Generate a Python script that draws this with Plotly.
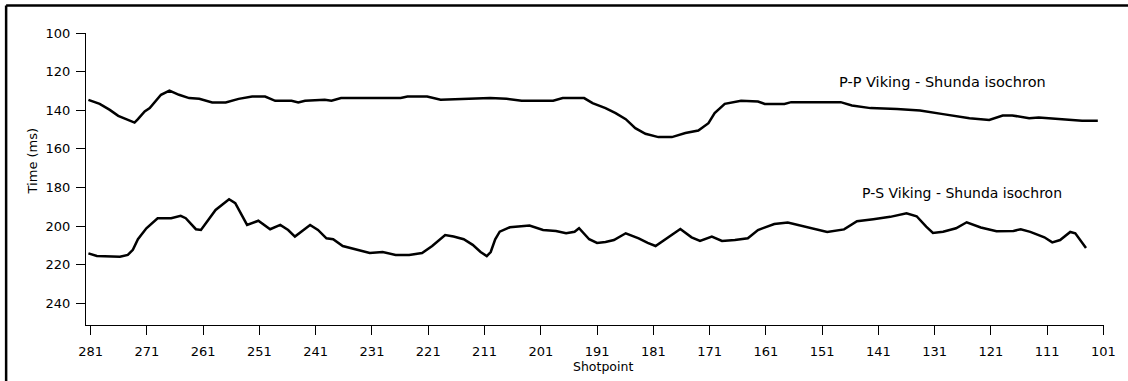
import plotly.graph_objects as go

# ---------------- data ----------------
pp_shotpoint = [281.4, 279.4, 277.6, 276.1, 274.7, 273.2, 272.6, 271.4, 270.5, 268.5,
                267.0, 265.3, 263.5, 261.7, 259.4, 257.0, 254.7, 252.3, 250.0, 248.2,
                245.3, 244.1, 242.9, 239.4, 238.2, 236.5, 232.9, 225.9, 224.7, 221.2,
                218.8, 213.6, 210.0, 207.1, 204.4, 198.8, 197.1, 193.3, 191.8, 189.5,
                187.7, 185.9, 184.2, 182.4, 180.1, 177.7, 175.3, 173.0, 171.2, 170.1,
                168.3, 165.4, 162.4, 161.2, 157.7, 156.5, 147.7, 145.7, 142.4, 137.7,
                133.6, 129.5, 124.8, 121.3, 118.9, 117.2, 114.2, 112.5, 107.8, 104.8,
                102.0]
pp_time = [134.6, 136.7, 139.8, 142.9, 144.6, 146.4, 144.6, 140.6, 138.9, 132.0,
           129.8, 132.0, 133.7, 134.1, 136.0, 136.0, 134.1, 132.9, 132.9, 135.1,
           135.1, 136.0, 135.1, 134.6, 135.1, 133.7, 133.7, 133.7, 132.9, 132.9,
           134.6, 134.1, 133.7, 134.1, 135.1, 135.1, 133.7, 133.7, 136.3, 138.9,
           141.5, 144.6, 149.3, 152.2, 153.9, 153.9, 151.8, 150.5, 146.7, 141.5,
           136.7, 135.1, 135.5, 136.7, 136.7, 135.8, 135.8, 137.5, 138.9, 139.4,
           140.1, 142.0, 144.1, 145.0, 142.7, 142.7, 144.1, 143.8, 145.0, 145.5,
           145.5]

ps_shotpoint = [281.4, 279.9, 275.8, 274.4, 273.5, 272.6, 271.1, 269.1, 266.7, 265.0,
                264.1, 262.3, 261.4, 260.3, 258.8, 256.4, 255.3, 253.2, 251.2, 249.1,
                247.3, 245.9, 244.7, 242.0, 240.6, 239.1, 237.9, 236.2, 233.5, 231.4,
                229.1, 226.8, 224.4, 222.1, 220.3, 219.1, 218.0, 216.5, 214.7, 213.1,
                211.7, 210.6, 209.9, 209.1, 208.3, 206.5, 203.0, 200.6, 198.3, 196.5,
                195.0, 194.2, 193.0, 192.4, 191.0, 189.5, 188.0, 185.9, 183.6, 182.0,
                180.6, 178.9, 176.2, 174.2, 172.7, 170.6, 168.8, 166.5, 164.2, 162.4,
                159.5, 157.1, 154.8, 152.4, 150.1, 147.1, 144.8, 141.9, 138.9, 136.0,
                134.2, 132.5, 131.3, 129.5, 127.2, 125.3, 122.8, 120.0, 117.0, 115.7,
                114.0, 111.5, 110.1, 108.7, 106.9, 106.0, 104.1]
ps_time = [214.1, 215.5, 215.8, 214.9, 212.3, 206.8, 201.1, 195.9, 195.9, 194.7,
           195.9, 201.6, 202.0, 197.7, 191.6, 186.1, 188.1, 199.4, 197.2, 201.6,
           199.4, 202.0, 205.4, 199.4, 202.0, 206.3, 206.8, 210.3, 212.3, 213.9,
           213.4, 214.9, 214.9, 213.9, 210.3, 207.2, 204.6, 205.4, 206.8, 209.7,
           213.4, 215.5, 213.4, 206.8, 202.9, 200.6, 199.7, 202.0, 202.5, 203.7,
           202.9, 201.1, 204.6, 206.8, 208.7, 208.2, 207.2, 203.7, 206.3, 208.7,
           210.3, 206.8, 201.5, 205.8, 207.7, 205.4, 207.7, 207.2, 206.3, 202.0,
           198.9, 198.1, 199.8, 201.6, 203.0, 201.7, 197.5, 196.4, 195.2, 193.3,
           194.9, 200.3, 203.5, 202.9, 201.1, 198.0, 200.7, 202.6, 202.5, 201.6,
           203.0, 205.8, 208.4, 207.2, 203.0, 203.7, 211.3]

x_ticks = [281, 271, 261, 251, 241, 231, 221, 211, 201, 191,
           181, 171, 161, 151, 141, 131, 121, 111, 101]
y_ticks = [100, 120, 140, 160, 180, 200, 220, 240]

pp_label = "P-P Viking - Shunda isochron"
ps_label = "P-S Viking - Shunda isochron"
x_title = "Shotpoint"
y_title = "Time (ms)"

FONT = "DejaVu Sans"

fig = go.Figure()
fig.add_trace(go.Scatter(x=pp_shotpoint, y=pp_time, mode="lines",
                         line=dict(color="black", width=2.5), name=pp_label,
                         showlegend=False))
fig.add_trace(go.Scatter(x=ps_shotpoint, y=ps_time, mode="lines",
                         line=dict(color="black", width=2.5), name=ps_label,
                         showlegend=False))

fig.update_layout(
    width=1128, height=381,
    margin=dict(l=86, r=16, t=33, b=56),
    paper_bgcolor="white", plot_bgcolor="white",
    font=dict(family=FONT, size=12, color="black"),
    xaxis=dict(range=[281.83, 100.9], tickvals=x_ticks,
               ticktext=[str(v) for v in x_ticks],
               ticks="outside", ticklen=9, tickwidth=1, tickcolor="black",
               ticklabelstandoff=5,
               showline=True, linecolor="black", linewidth=1,
               showgrid=False, zeroline=False,
               tickfont=dict(family=FONT, size=13, color="black")),
    yaxis=dict(range=[251.2, 100], tickvals=y_ticks,
               ticks="outside", ticklen=9, tickwidth=1, tickcolor="black",
               ticklabelstandoff=3,
               showline=True, linecolor="black", linewidth=1,
               showgrid=False, zeroline=False,
               tickfont=dict(family=FONT, size=13, color="black")),
)

# text labels (positions given in pixels, converted to paper units below)
fig.add_annotation(x=949, y=82, text=pp_label, showarrow=False,
                   font=dict(family=FONT, size=14.5, color="black"))
fig.add_annotation(x=969, y=193, text=ps_label, showarrow=False,
                   font=dict(family=FONT, size=14, color="black"))
fig.add_annotation(x=607, y=366, text=x_title, showarrow=False,
                   font=dict(family=FONT, size=12.5, color="black"))
fig.add_annotation(x=32, y=161, text=y_title, textangle=-90, showarrow=False,
                   font=dict(family=FONT, size=13, color="black"))

L, R, T, B, W, H = 86, 16, 33, 56, 1128, 381
pw, ph = W - L - R, H - T - B
for a in fig.layout.annotations:
    a.xref = "paper"
    a.yref = "paper"
    a.xanchor = "center"
    a.yanchor = "middle"
    a.x = (a.x - L) / pw
    a.y = (H - B - a.y) / ph

# outer picture border (top and left edges only; right/bottom run off the picture)
fx = (5.5 - L) / pw
fy = (H - B - 5.5) / ph
fig.add_shape(type="line", xref="paper", yref="paper",
              x0=fx, x1=(W + 20 - L) / pw, y0=fy, y1=fy,
              line=dict(color="black", width=2.5), layer="above")
fig.add_shape(type="line", xref="paper", yref="paper",
              x0=fx, x1=fx, y0=fy, y1=(H - B - (H + 20)) / ph,
              line=dict(color="black", width=2.5), layer="above")

fig.write_html("out.html")
